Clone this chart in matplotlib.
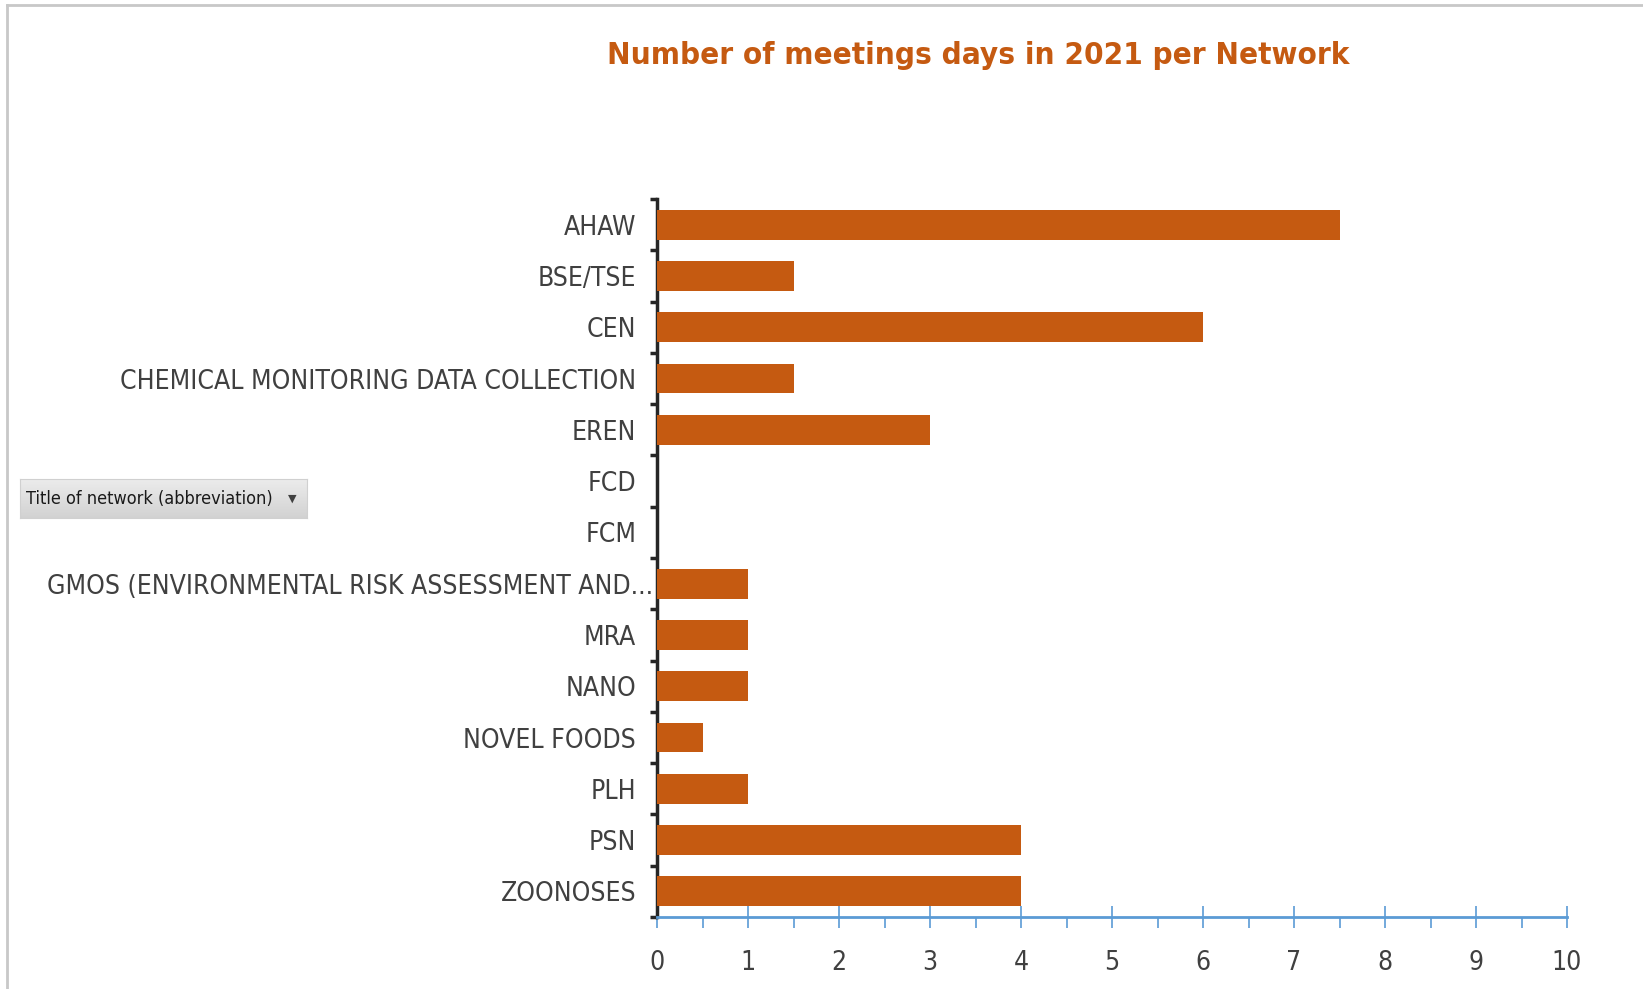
import matplotlib
matplotlib.use("Agg")
import matplotlib.pyplot as plt
import matplotlib.transforms as mtransforms
import numpy as np

categories = ["AHAW", "BSE/TSE", "CEN", "CHEMICAL MONITORING DATA COLLECTION", "EREN",
              "FCD", "FCM", "GMOS (ENVIRONMENTAL RISK ASSESSMENT AND...", "MRA", "NANO",
              "NOVEL FOODS", "PLH", "PSN", "ZOONOSES"]
values = [7.5, 1.5, 6, 1.5, 3, 0, 0, 1, 1, 1, 0.5, 1, 4, 4]
xticks = list(range(0, 11))

W, H = 1643, 989
fig = plt.figure(figsize=(W / 100, H / 100), dpi=100)
fig.patch.set_facecolor("white")

ax = fig.add_axes([657 / W, 1 - 917 / H, (1567 - 657) / W, (917 - 199) / H])
n = len(categories)
y = np.arange(n)
ax.barh(y, values, height=0.58, color="#c55a11", zorder=3)
ax.set_ylim(n - 0.5, -0.5)
ax.set_xlim(0, 10)

FONT = dict(family="DejaVu Sans", stretch="condensed")
ax.set_yticks(y)
ax.set_yticklabels(categories, fontsize=19, color="#404040", **FONT)
ax.tick_params(axis="y", which="major", length=0, pad=15)
ax.set_yticks(np.arange(-0.5, n, 1), minor=True)
ax.tick_params(axis="y", which="minor", length=5, width=2.5, color="#262626", direction="out")

# truncated label sits closer to the axis in the reference
for lab in ax.get_yticklabels():
    if lab.get_text().endswith("..."):
        lab.set_transform(lab.get_transform() +
                          mtransforms.ScaledTranslation(12 / 72, 0, fig.dpi_scale_trans))

ax.set_xticks(xticks)
ax.set_xticklabels([str(t) for t in xticks], fontsize=19, color="#404040", **FONT)
ax.set_xticks(np.arange(0.5, 10, 1), minor=True)
ax.tick_params(axis="x", which="major", length=16, width=1.2, color="#5b9bd5",
               direction="inout", pad=16)
ax.tick_params(axis="x", which="minor", length=8, width=1.2, color="#5b9bd5",
               direction="out")

for s in ["top", "right"]:
    ax.spines[s].set_visible(False)
ax.spines["left"].set_color("#262626")
ax.spines["left"].set_linewidth(2.5)
ax.spines["bottom"].set_color("#5b9bd5")
ax.spines["bottom"].set_linewidth(2)

fig.text(978 / W, 1 - 55 / H, "Number of meetings days in 2021 per Network",
         ha="center", va="center", fontsize=22.5, fontweight="bold", color="#c55a11", **FONT)

# frame lines (top and left)
fig.add_artist(plt.Line2D([7 / W, 1], [1 - 5 / H, 1 - 5 / H], color="#c8c8c8", lw=2,
                          transform=fig.transFigure))
fig.add_artist(plt.Line2D([7 / W, 7 / W], [0, 1 - 5 / H], color="#c8c8c8", lw=2,
                          transform=fig.transFigure))

# field button with vertical gradient
bx0, by0, bx1, by1 = 20, 479, 307, 518
grad = np.linspace(0, 1, 64).reshape(-1, 1)
bax = fig.add_axes([bx0 / W, 1 - by1 / H, (bx1 - bx0) / W, (by1 - by0) / H])
bax.imshow(grad, aspect="auto", cmap=matplotlib.colors.LinearSegmentedColormap.from_list(
    "g", ["#ececec", "#d2d2d2"]), extent=(0, 1, 0, 1), origin="upper")
bax.set_xticks([])
bax.set_yticks([])
for s in bax.spines.values():
    s.set_color("#d0d0d0")
bax.text(0.02, 0.5, "Title of network (abbreviation)", ha="left", va="center",
         fontsize=13, color="#1a1a1a", transform=bax.transAxes, **FONT)
bax.text(0.95, 0.5, "\u25BC", ha="center", va="center", fontsize=8,
         color="#404040", transform=bax.transAxes)

fig.savefig("out.png", dpi=100, facecolor="white")
